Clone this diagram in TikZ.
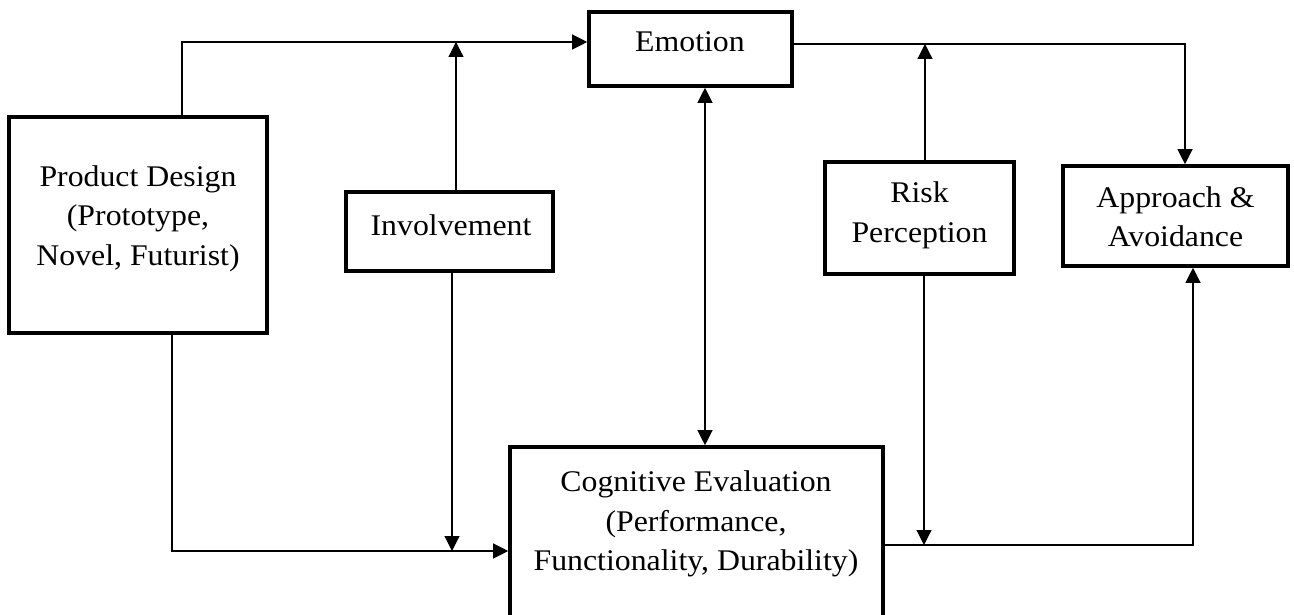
\documentclass[tikz,border=0pt]{standalone}
\usepackage{fontspec}
\setmainfont{Liberation Serif}[FakeStretch=1.06]
\usetikzlibrary{arrows.meta}
\begin{document}
\begin{tikzpicture}[x=1pt,y=-1pt,
  box/.style={draw, line width=3.6pt, inner sep=0pt},
  lbl/.style={font=\fontsize{30}{39.5}\selectfont, align=center, inner sep=0pt},
  conn/.style={line width=1.2pt, -{Triangle[length=15pt,width=15pt]}},
  conntwo/.style={line width=1.2pt, {Triangle[length=15pt,width=15pt]}-{Triangle[length=15pt,width=15pt]}}]
\useasboundingbox (0,0) rectangle (1294,615);
\fill[white] (0,0) rectangle (1294,615);
\clip (0,0) rectangle (1294,615);

% boxes
\node[box, minimum width=258pt, minimum height=216pt] (pd) at (138,225) {};
\node[box, minimum width=207pt, minimum height=79pt] (inv) at (449.5,231.5) {};
\node[box, minimum width=203pt, minimum height=74pt] (emo) at (690.5,49) {};
\node[box, minimum width=189pt, minimum height=112pt] (risk) at (919.5,218) {};
\node[box, minimum width=225pt, minimum height=100pt] (app) at (1175.5,216) {};
\node[box, minimum width=373pt, minimum height=178pt] (cog) at (696.5,536) {};

% texts
\node[lbl] (pdT) at (138,218.5) {Product Design\\(Prototype,\\Novel, Futurist)};
\node[lbl, anchor=base] (invT) at (451,235) {Involvement};
\node[lbl, anchor=base] (emoT) at (690,52) {Emotion};
\node[lbl] (riskT) at (919.5,215.5) {Risk\\Perception};
\node[lbl] (appT) at (1175.5,216.5) {Approach \&\\Avoidance};
\node[lbl] (cogT) at (696,524) {Cognitive Evaluation\\(Performance,\\Functionality, Durability)};

% junction points
\coordinate (j1) at (456,42);
\coordinate (j2) at (452,551);
\coordinate (j3) at (925,44);
\coordinate (j4) at (924,545);

% connectors
\draw[conn] ([xshift=44pt]pd.north) |- ([yshift=7pt]emo.west);
\draw[conn] (inv.north -| j1) -- (j1);
\draw[conn] (inv.south -| j2) -- (j2);
\draw[conn] ([xshift=34pt]pd.south) |- ([yshift=-15pt]cog.west);
\draw[conntwo] ([xshift=14.5pt]emo.south) -- ([xshift=14.5pt]emo.south |- cog.north);
\draw[conn] ([yshift=5pt]emo.east) -| ([xshift=9.5pt]app.north);
\draw[conn] (risk.north -| j3) -- (j3);
\draw[conn] (risk.south -| j4) -- (j4);
\draw[conn] ([yshift=-9pt]cog.east) -| ([xshift=17.5pt]app.south);
\end{tikzpicture}
\end{document}
